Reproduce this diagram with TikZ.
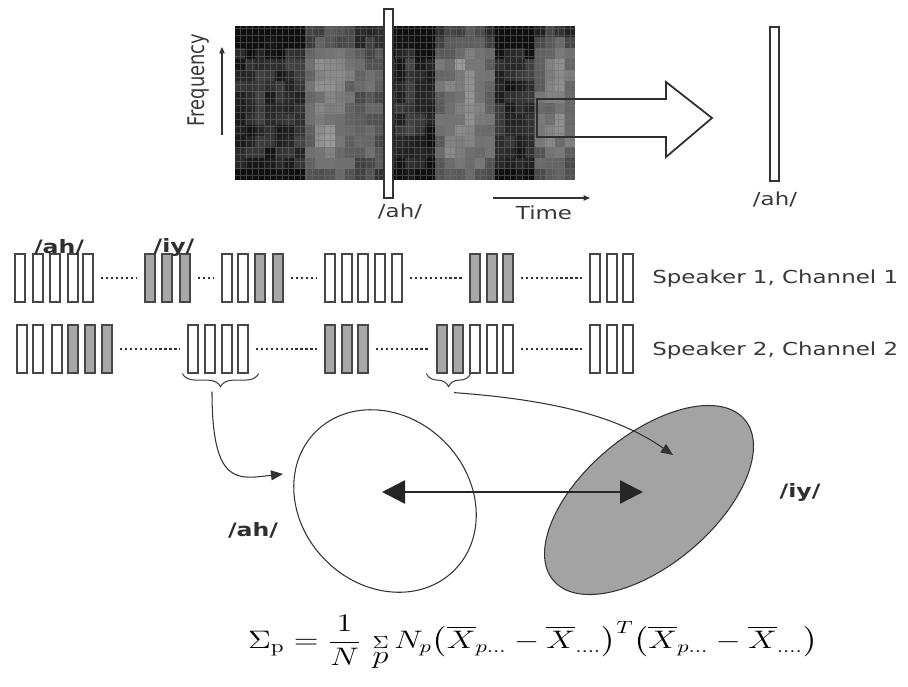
\documentclass[tikz,border=0pt]{standalone}
\usepackage{fontspec}
\setsansfont{DejaVu Sans}
\usepackage{amsmath}
\usepackage{graphicx}
\usetikzlibrary{arrows.meta,calc,shapes.geometric,decorations.pathreplacing}

% the scanned figure is stretched sideways
\newcommand{\wide}[1]{\scalebox{1.28}[1]{#1}}
\newcommand{\tall}[1]{\scalebox{1}[1.28]{#1}}
% darkness of the spectrogram, one value per column
\newcommand{\specprof}{{84,86,82,85,83,82,80,58,50,48,52,56,64,60,66,82,84,80,84,90,60,52,48,50,54,60,82,85,84,80,60,54,52,58}}

\begin{document}
\begin{tikzpicture}[
  x=0.02cm, y=-0.02cm,
  bar/.style={draw=black!72, line width=0.7pt, fill=white, inner sep=0pt,
              minimum width=0.2cm, minimum height=0.96cm},
  barg/.style={bar, fill=black!34},
  slice/.style={draw=black!80, line width=0.7pt, fill=white, inner sep=0pt,
                minimum width=0.18cm},
  dots/.style={black!80, line width=1.3pt, dash pattern=on 1.3pt off 1.5pt,
               shorten <=0.15cm, shorten >=0.15cm},
  brc/.style={black!75, line width=0.6pt,
              decorate, decoration={brace, mirror, amplitude=0.26cm}},
  curv/.style={black!80, line width=0.6pt, -{Triangle[length=2.4mm, width=2mm]}},
  axis/.style={black!80, line width=0.6pt, -{Triangle[length=1.3mm, width=1.1mm]}},
  dbl/.style={black!85, line width=1.4pt,
              {Triangle[length=4.6mm, width=4.6mm]}-{Triangle[length=4.6mm, width=4.6mm]}},
  lbl/.style={font=\sffamily\fontsize{10.2}{12}\selectfont, text=black!78, inner sep=0pt},
  blbl/.style={font=\sffamily\bfseries\fontsize{10.5}{12}\selectfont, text=black!82, inner sep=0pt}
]
\useasboundingbox (0,0) rectangle (908,686);

% spectrogram
\pgfmathsetseed{42}
\foreach \i in {0,...,33}{
  \foreach \j in {0,...,13}{
    \pgfmathsetmacro\bs{\specprof[\i]}
    \pgfmathtruncatemacro\dk{min(94,max(30,\bs+(\j==0)*22+(\j==1)*14+(\j==2)*6+(\j==12)*6+(\j==13)*14+16*rnd-8))}
    \fill[black!\dk] (235+10*\i,26+11*\j) rectangle ++(10,11);
  }
}
\draw[black!55, opacity=0.5, line width=0.2pt, xstep=0.12cm, ystep=0.14cm] (235,26) grid (575,180);

\node[slice, minimum height=3.78cm] (sl) at (388.5,103.5) {};
\node[slice, minimum height=3.08cm] (out) at (774.5,104) {};
\draw[black!82, line width=1pt, line join=miter]
  (537,99) -- (666,99) -- (666,82) -- (712,118) -- (666,157) -- (666,137) -- (537,137) -- cycle;

\coordinate (fq0) at (222,135);
\coordinate (fq1) at (222,47);
\draw[axis] (fq0) -- (fq1);
\coordinate (tm0) at (493,198);
\coordinate (tm1) at (590,198);
\draw[axis] (tm0) -- (tm1);

\node[lbl, rotate=90] (freq) at (199,80) {\tall{Frequency}};
\node[lbl] (slbl) at (400,212) {\wide{/ah/}};
\node[lbl] (time) at (544,213) {\wide{Time}};
\node[lbl] (olbl) at (775,200) {\wide{/ah/}};

% the two channels
\foreach \x/\f [count=\i] in {15/bar,33/bar,50/bar,68/bar,83/bar,145/barg,162/barg,180/barg,
    222/bar,238/bar,255/barg,273/barg,325/bar,342/bar,358/bar,375/bar,392/bar,
    470/barg,487/barg,503/barg,590/bar,607/bar,623/bar}
  \node[\f] (s1b\i) at (\x+5,278) {};
\foreach \x/\f [count=\i] in {17/bar,33/bar,52/bar,68/barg,85/barg,102/barg,
    188/bar,205/bar,222/bar,238/bar,325/barg,342/barg,358/barg,
    437/barg,453/barg,470/bar,487/bar,503/bar,590/bar,607/bar,623/bar}
  \node[\f] (s2b\i) at (\x+5,349) {};

\foreach \a/\b in {5/6,8/9,12/13,17/18,20/21}
  \draw[dots] (s1b\a.east) -- (s1b\b.west);
\foreach \a/\b in {6/7,10/11,13/14,18/19}
  \draw[dots] (s2b\a.east) -- (s2b\b.west);

\node[blbl] (ahtop) at (59,247) {\wide{/ah/}};
\node[blbl] (iytop) at (174,247) {\wide{/iy/}};
\node[lbl, anchor=west] (sp1) at (652,279) {\wide{Speaker 1, Channel 1}};
\node[lbl, anchor=west] (sp2) at (652,351) {\wide{Speaker 2, Channel 2}};

% braces and the classes
\draw[brc] ($(s2b7.south west)+(-5,0)$) -- ($(s2b10.south east)+(10,0)$);
\draw[brc] ($(s2b14.south west)+(-10,0)$) -- ($(s2b15.south east)+(7,0)$);
\coordinate (tipA) at ($(s2b7.south west)!0.5!(s2b10.south east)+(-6,18)$);
\coordinate (tipB) at ($(s2b14.south west)!0.5!(s2b15.south east)+(4,19)$);

\node[draw=black!80, line width=0.6pt, ellipse, minimum width=3.92cm, minimum height=3.36cm,
      rotate=-45, inner sep=0pt] (ah) at (385,501) {};
\node[draw=black!80, line width=0.6pt, ellipse, fill=black!36, minimum width=5cm,
      minimum height=2.6cm, rotate=40, inner sep=0pt] (iy) at (649,500) {};
\coordinate (inA) at (283,474);
\coordinate (inB) at (673,455);

\draw[curv] (tipA) .. controls +(0,95) and +(-45,5) .. (inA);
\draw[curv] (tipB) .. controls +(110,8) and +(-50,-35) .. (inB);
\draw[dbl] ($(ah.center)+(-3,-9)$) -- ($(iy.center)+(-6,-8)$);

\node[blbl] (ahlbl) at (253,530) {\wide{/ah/}};
\node[blbl] (iylbl) at (800,492) {\wide{/iy/}};

\node[font=\fontsize{14.6}{17}\selectfont, inner sep=0pt] (frm) at (533,643)
  {\wide{$\Sigma_{\mathrm{p}} = \dfrac{1}{N}\,\mathop{\scriptstyle\Sigma}\limits_{\textstyle p} N_p
   \bigl(\overline{X}_{p\ldots}-\overline{X}_{\ldots.}\bigr)^{T}
   \bigl(\overline{X}_{p\ldots}-\overline{X}_{\ldots.}\bigr)$}};
\end{tikzpicture}
\end{document}
